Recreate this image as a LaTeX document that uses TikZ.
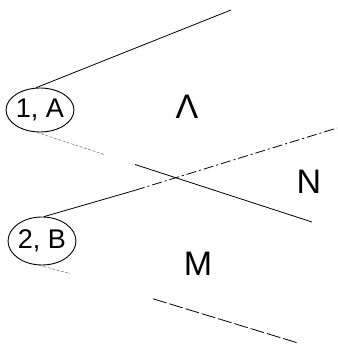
\documentclass[tikz,border=0pt]{standalone}
\usepackage{fontspec}
\setmainfont{Liberation Sans}
\usetikzlibrary{shapes.geometric}
\tikzset{
  state/.style={ellipse,draw,line width=0.9pt,inner sep=0pt,minimum width=64pt,minimum height=44pt,font=\fontsize{27}{27}\selectfont},
  region/.style={font=\fontsize{34}{34}\selectfont,inner sep=0pt},
  edge/.style={line width=0.8pt},
  faint/.style={line width=0.6pt,gray,dash pattern=on 3pt off 1.5pt},
  dashdot/.style={line width=0.8pt,dash pattern=on 10pt off 3pt on 2pt off 3pt}
}
\begin{document}
\begin{tikzpicture}[x=1pt,y=-1pt]
\useasboundingbox (0,0) rectangle (337,352);
\node[state] (a) at (40,110) {1, A};
\node[state,minimum width=59pt,minimum height=48pt] (b) at (42,241) {2, B};
\node[region] (lam) at (187,107) {Λ};
\node[region] (n) at (309,182) {N};
\node[region] (m) at (198,264) {M};
\coordinate (t1) at (231,10);
\coordinate (t2a) at (105,154.8);
\coordinate (t2b) at (135,164.5);
\coordinate (t2) at (312,222);
\coordinate (t3a) at (135,190.3);
\coordinate (t3) at (337,128);
\coordinate (t4a) at (70,273.5);
\coordinate (t4b) at (153,298.8);
\coordinate (t4) at (298,343);
\draw[edge] (a.100) -- (t1);
\draw[faint] (a.262) -- (t2a);
\draw[edge] (t2b) -- (t2);
\draw[edge] (b.85) -- (t3a);
\draw[dashdot] (t3a) -- (t3);
\draw[faint] (b.263) -- (t4a);
\draw[edge,dash pattern=on 14pt off 3pt] (t4b) -- (t4);
\end{tikzpicture}
\end{document}
